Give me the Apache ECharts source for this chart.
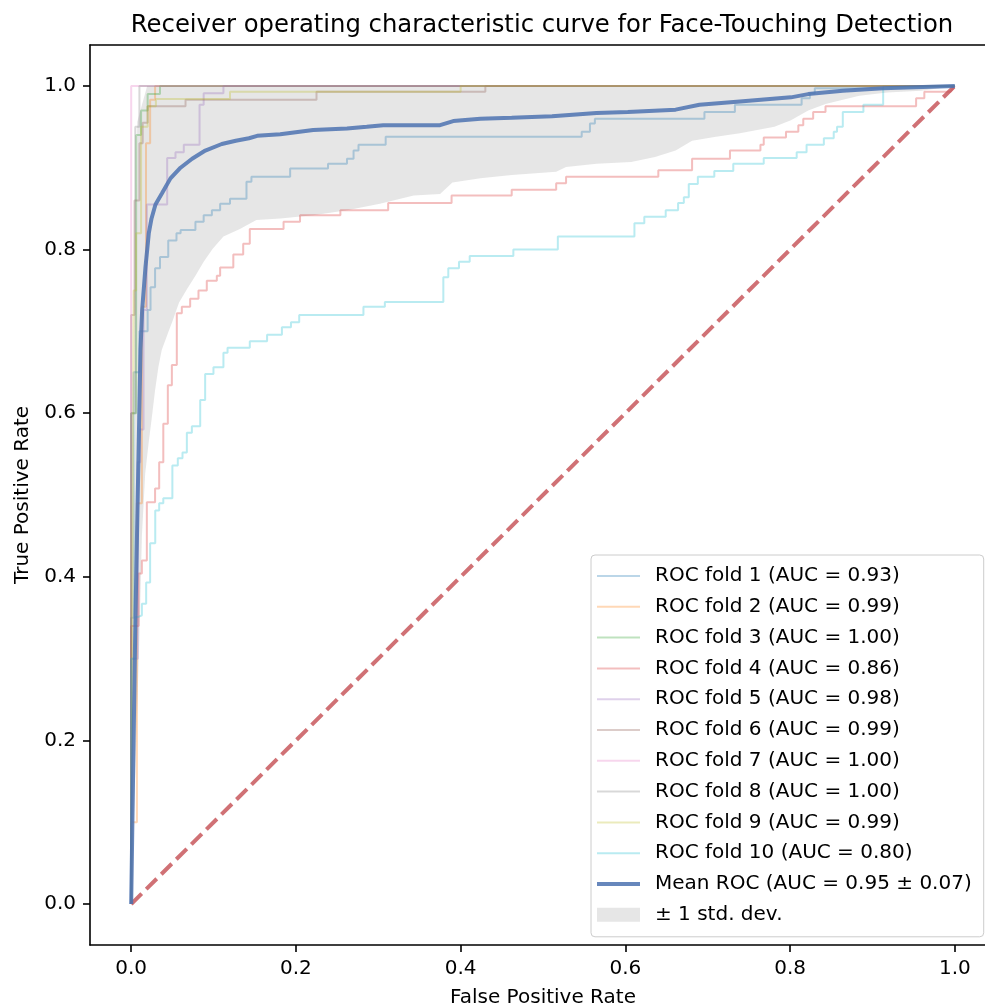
<!DOCTYPE html>
<html>
<head>
<meta charset="utf-8">
<script src="https://cdn.jsdelivr.net/npm/echarts@6/dist/echarts.min.js"></script>
<style>
  html, body { margin: 0; padding: 0; background: #fff; }
  #roc { width: 985px; height: 1007px; }
</style>
</head>
<body>
<div id="roc"></div>
<script>
// ROC curves per fold as [fpr, tpr] vertices
var fold1 = [[0,0],[0,0.35],[0.003,0.35],[0.003,0.65],[0.01,0.65],[0.01,0.70],[0.02,0.70],[0.02,0.726],[0.0235,0.726],[0.0235,0.754],[0.029,0.754],[0.029,0.777],[0.035,0.777],[0.035,0.791],[0.045,0.791],[0.045,0.811],[0.055,0.811],[0.055,0.820],[0.06,0.820],[0.06,0.824],[0.078,0.824],[0.078,0.834],[0.088,0.834],[0.088,0.842],[0.098,0.842],[0.098,0.848],[0.108,0.848],[0.108,0.856],[0.12,0.856],[0.12,0.862],[0.14,0.862],[0.14,0.883],[0.146,0.883],[0.146,0.889],[0.193,0.889],[0.193,0.899],[0.239,0.899],[0.239,0.905],[0.262,0.905],[0.262,0.911],[0.27,0.911],[0.27,0.921],[0.276,0.921],[0.276,0.928],[0.309,0.928],[0.309,0.938],[0.547,0.938],[0.547,0.944],[0.557,0.944],[0.557,0.954],[0.563,0.954],[0.563,0.960],[0.696,0.960],[0.696,0.968],[0.733,0.968],[0.733,0.977],[0.814,0.977],[0.814,0.985],[0.824,0.985],[0.824,0.991],[0.83,0.991],[0.83,0.997],[0.913,0.997],[0.913,1],[1,1]];
var fold2 = [[0,0],[0,0.10],[0.007,0.10],[0.007,0.49],[0.013,0.49],[0.013,0.73],[0.018,0.73],[0.018,0.93],[0.023,0.93],[0.023,0.983],[0.029,0.983],[0.029,1],[1,1]];
var fold3 = [[0,0],[0,0.60],[0.006,0.60],[0.006,0.94],[0.012,0.94],[0.012,0.97],[0.02,0.97],[0.02,0.99],[0.035,0.99],[0.035,1],[1,1]];
var fold4 = [[0,0],[0,0.34],[0.009,0.34],[0.009,0.404],[0.013,0.404],[0.013,0.42],[0.019,0.42],[0.019,0.491],[0.029,0.491],[0.029,0.508],[0.034,0.508],[0.034,0.54],[0.039,0.54],[0.039,0.587],[0.0445,0.587],[0.0445,0.634],[0.0494,0.634],[0.0494,0.659],[0.0554,0.659],[0.0554,0.722],[0.0615,0.722],[0.0615,0.730],[0.0716,0.730],[0.0716,0.740],[0.0817,0.740],[0.0817,0.750],[0.0918,0.750],[0.0918,0.762],[0.104,0.762],[0.104,0.768],[0.108,0.768],[0.108,0.778],[0.124,0.778],[0.124,0.794],[0.136,0.794],[0.136,0.807],[0.144,0.807],[0.144,0.825],[0.185,0.825],[0.185,0.834],[0.205,0.834],[0.205,0.842],[0.254,0.842],[0.254,0.848],[0.312,0.848],[0.312,0.857],[0.389,0.857],[0.389,0.866],[0.462,0.866],[0.462,0.873],[0.516,0.873],[0.516,0.881],[0.528,0.881],[0.528,0.889],[0.640,0.889],[0.640,0.897],[0.681,0.897],[0.681,0.911],[0.727,0.911],[0.727,0.921],[0.764,0.921],[0.764,0.928],[0.768,0.928],[0.768,0.937],[0.795,0.937],[0.795,0.944],[0.810,0.944],[0.810,0.952],[0.816,0.952],[0.816,0.960],[0.828,0.960],[0.828,0.968],[0.843,0.968],[0.843,0.975],[0.953,0.975],[0.953,0.985],[0.963,0.985],[0.963,0.993],[0.995,0.993],[1,1]];
var fold5 = [[0,0],[0,0.30],[0.008,0.30],[0.008,0.54],[0.011,0.54],[0.011,0.58],[0.015,0.58],[0.015,0.726],[0.019,0.726],[0.019,0.855],[0.0437,0.855],[0.0437,0.912],[0.0538,0.912],[0.0538,0.919],[0.0639,0.919],[0.0639,0.928],[0.083,0.928],[0.083,0.977],[0.088,0.977],[0.088,0.991],[0.112,0.991],[0.112,1],[1,1]];
var fold6 = [[0,0],[0,0.72],[0.004,0.72],[0.004,0.86],[0.01,0.86],[0.01,0.93],[0.014,0.93],[0.014,0.955],[0.02,0.955],[0.02,0.975],[0.066,0.975],[0.066,0.983],[0.225,0.983],[0.225,0.993],[0.43,0.993],[0.43,1],[1,1]];
var fold7 = [[0,0],[0,1],[1,1]];
var fold8 = [[0,0],[0,0.60],[0.005,0.60],[0.005,0.95],[0.01,0.95],[0.01,1],[1,1]];
var fold9 = [[0,0],[0.003,0.75],[0.006,0.75],[0.006,0.82],[0.012,0.82],[0.012,0.95],[0.02,0.95],[0.02,0.975],[0.03,0.975],[0.03,0.984],[0.12,0.984],[0.12,0.993],[0.40,0.993],[0.40,1],[1,1]];
var fold10 = [[0,0],[0,0.30],[0.005,0.30],[0.005,0.351],[0.0089,0.351],[0.0089,0.353],[0.013,0.353],[0.013,0.367],[0.0182,0.367],[0.0182,0.393],[0.023,0.393],[0.023,0.441],[0.0292,0.441],[0.0292,0.481],[0.034,0.481],[0.034,0.49],[0.039,0.49],[0.039,0.496],[0.05,0.496],[0.05,0.536],[0.0566,0.536],[0.0566,0.545],[0.0623,0.545],[0.0623,0.552],[0.0676,0.552],[0.0676,0.576],[0.0737,0.576],[0.0737,0.584],[0.0838,0.584],[0.0838,0.616],[0.0898,0.616],[0.0898,0.648],[0.0999,0.648],[0.0999,0.656],[0.112,0.656],[0.112,0.674],[0.117,0.674],[0.117,0.680],[0.144,0.680],[0.144,0.688],[0.165,0.688],[0.165,0.696],[0.183,0.696],[0.183,0.705],[0.194,0.705],[0.194,0.711],[0.204,0.711],[0.204,0.720],[0.282,0.720],[0.282,0.730],[0.308,0.730],[0.308,0.736],[0.379,0.736],[0.379,0.766],[0.385,0.766],[0.385,0.777],[0.398,0.777],[0.398,0.785],[0.411,0.785],[0.411,0.792],[0.464,0.792],[0.464,0.800],[0.518,0.800],[0.518,0.816],[0.611,0.816],[0.611,0.832],[0.623,0.832],[0.623,0.840],[0.649,0.840],[0.649,0.848],[0.664,0.848],[0.664,0.857],[0.671,0.857],[0.671,0.864],[0.677,0.864],[0.677,0.880],[0.688,0.880],[0.688,0.889],[0.708,0.889],[0.708,0.896],[0.731,0.896],[0.731,0.905],[0.768,0.905],[0.768,0.912],[0.808,0.912],[0.808,0.919],[0.820,0.919],[0.820,0.928],[0.841,0.928],[0.841,0.936],[0.853,0.936],[0.853,0.944],[0.857,0.944],[0.857,0.950],[0.864,0.950],[0.864,0.968],[0.889,0.968],[0.889,0.977],[0.913,0.977],[0.913,0.997],[1,1]];

var foldNames = ['ROC fold 1 (AUC = 0.93)', 'ROC fold 2 (AUC = 0.99)', 'ROC fold 3 (AUC = 1.00)', 'ROC fold 4 (AUC = 0.86)', 'ROC fold 5 (AUC = 0.98)', 'ROC fold 6 (AUC = 0.99)', 'ROC fold 7 (AUC = 1.00)', 'ROC fold 8 (AUC = 1.00)', 'ROC fold 9 (AUC = 0.99)', 'ROC fold 10 (AUC = 0.80)'];
var foldData = [fold1, fold2, fold3, fold4, fold5, fold6, fold7, fold8, fold9, fold10];

// mean ROC and the +/- 1 std band
var meanRoc = [[0,0],[0.005,0.34],[0.0113,0.677],[0.0133,0.726],[0.0174,0.779],[0.0214,0.82],[0.0247,0.838],[0.0295,0.855],[0.0376,0.869],[0.0477,0.887],[0.0599,0.90],[0.074,0.911],[0.090,0.921],[0.110,0.929],[0.127,0.933],[0.143,0.936],[0.153,0.939],[0.181,0.941],[0.221,0.946],[0.262,0.948],[0.286,0.950],[0.306,0.952],[0.375,0.952],[0.391,0.957],[0.424,0.960],[0.462,0.961],[0.511,0.963],[0.565,0.967],[0.603,0.968],[0.661,0.971],[0.690,0.977],[0.739,0.981],[0.801,0.986],[0.822,0.990],[0.864,0.994],[0.913,0.997],[1,1]];
var bandUpper = [[0,0],[0.0073,0.956],[0.0194,1],[1,1]];
var bandLower = [[0,0],[0.0101,0.33],[0.013,0.45],[0.017,0.526],[0.0211,0.563],[0.0251,0.595],[0.029,0.628],[0.033,0.656],[0.037,0.677],[0.045,0.699],[0.05,0.712],[0.058,0.735],[0.068,0.752],[0.078,0.768],[0.088,0.785],[0.099,0.801],[0.112,0.816],[0.132,0.825],[0.152,0.836],[0.181,0.838],[0.221,0.842],[0.262,0.848],[0.302,0.856],[0.343,0.866],[0.375,0.868],[0.39,0.882],[0.424,0.887],[0.462,0.891],[0.516,0.895],[0.528,0.901],[0.565,0.905],[0.607,0.907],[0.636,0.913],[0.661,0.921],[0.681,0.933],[0.71,0.938],[0.739,0.942],[0.781,0.950],[0.801,0.958],[0.822,0.970],[0.843,0.978],[0.884,0.988],[0.918,0.992],[0.959,0.994],[1,1]];
var chanceLine = [[0,0],[1,1]];

var tickValues = [0, 0.2, 0.4, 0.6, 0.8, 1.0];

var foldColors = ['rgba(31,119,180,0.3)', 'rgba(255,127,14,0.3)', 'rgba(44,160,44,0.3)', 'rgba(214,39,40,0.3)', 'rgba(148,103,189,0.3)', 'rgba(140,86,75,0.3)', 'rgba(227,119,194,0.3)', 'rgba(127,127,127,0.3)', 'rgba(188,189,34,0.3)', 'rgba(23,190,207,0.3)'];
var meanColor = 'rgba(76,114,176,0.85)';
var chanceColor = 'rgba(196,78,82,0.8)';
var bandColor = 'rgba(128,128,128,0.2)';
var font = 'DejaVu Sans';

var chart = echarts.init(document.getElementById('roc'), null, {renderer: 'canvas'});

var series = [];
var legendData = [];
for (var i = 0; i < foldData.length; i++) {
	series.push({
		name: foldNames[i],
		type: 'line',
		data: foldData[i],
		symbol: 'none',
		itemStyle: {color: foldColors[i]},
		lineStyle: {color: foldColors[i], width: 2},
		z: 2
	});
	legendData.push({name: foldNames[i], icon: 'path://M0,0H43V2H0Z', itemStyle: {color: foldColors[i]}});
}
series.push({
	name: 'Chance',
	type: 'line',
	data: chanceLine,
	symbol: 'none',
	itemStyle: {color: chanceColor},
	lineStyle: {color: chanceColor, width: 4, type: [14.8, 6.4]},
	z: 2
});
series.push({
	name: 'Mean ROC (AUC = 0.95 ± 0.07)',
	type: 'line',
	data: meanRoc,
	symbol: 'none',
	itemStyle: {color: meanColor},
	lineStyle: {color: meanColor, width: 4},
	z: 2
});
series.push({
	name: '± 1 std. dev.',
	type: 'custom',
	data: [[0, 0]],
	clip: true,
	itemStyle: {color: bandColor},
	z: 2,
	renderItem: function (params, api) {
		// polygon: upper edge forward, lower edge backward
		var pts = [];
		for (var a = 0; a < bandUpper.length; a++) pts.push(api.coord(bandUpper[a]));
		for (var b = bandLower.length - 1; b >= 0; b--) pts.push(api.coord(bandLower[b]));
		return {type: 'polygon', shape: {points: pts}, style: {fill: bandColor}};
	}
});
legendData.push({name: 'Mean ROC (AUC = 0.95 ± 0.07)', icon: 'path://M0,0H43V4H0Z', itemStyle: {color: meanColor}});
legendData.push({name: '± 1 std. dev.', icon: 'rect', itemStyle: {color: bandColor}});

var axisLabelStyle = {
	customValues: tickValues, margin: 14,
	fontFamily: font, fontSize: 20, color: '#000',
	formatter: function (v) { return v.toFixed(1); }
};

var option = {
	animation: false,
	backgroundColor: '#fff',
	title: {
		text: 'Receiver operating characteristic curve for Face-Touching Detection',
		left: 537,
		top: 9,
		textAlign: 'center',
		textStyle: {fontFamily: font, fontSize: 24.3, fontWeight: 'normal', color: '#000'}
	},
	grid: {
		left: 90, top: 45, width: 906, height: 900,
		outerBoundsMode: 'none',
		containLabel: false,
		show: false
	},
	legend: {
		orient: 'vertical',
		left: 591,
		top: 555,
		data: legendData,
		selectedMode: false,
		itemWidth: 43,
		itemHeight: 14,
		itemGap: 10.8,
		padding: [11, 12, 12, 6],
		backgroundColor: 'rgba(255,255,255,0.8)',
		borderColor: '#cccccc',
		borderWidth: 1,
		borderRadius: 4,
		itemStyle: {borderWidth: 0},
		textStyle: {fontFamily: font, fontSize: 20, lineHeight: 20, color: '#000', padding: [0, 0, 0, 10]}
	},
	xAxis: [{
		type: 'value',
		min: -0.05,
		max: 1.05,
		name: 'False Positive Rate',
		nameLocation: 'middle',
		nameGap: 43,
		nameTextStyle: {fontFamily: font, fontSize: 20, color: '#000'},
		splitLine: {show: false},
		axisLine: {onZero: false, lineStyle: {color: '#000', width: 1.6}},
		axisTick: {length: 7, lineStyle: {color: '#000', width: 1.6}, customValues: tickValues},
		axisLabel: axisLabelStyle
	}, {
		// top spine only
		type: 'value',
		position: 'top',
		min: -0.05,
		max: 1.05,
		splitLine: {show: false},
		axisLine: {onZero: false, lineStyle: {color: '#000', width: 1.6}},
		axisTick: {show: false},
		axisLabel: {show: false}
	}],
	yAxis: {
		type: 'value',
		min: -0.05,
		max: 1.05,
		name: 'True Positive Rate',
		nameLocation: 'middle',
		nameGap: 56,
		nameTextStyle: {fontFamily: font, fontSize: 20, color: '#000'},
		splitLine: {show: false},
		axisLine: {onZero: false, lineStyle: {color: '#000', width: 1.6}},
		axisTick: {length: 7, lineStyle: {color: '#000', width: 1.6}, customValues: tickValues},
		axisLabel: axisLabelStyle
	},
	series: series
};

chart.setOption(option);
</script>
</body>
</html>
